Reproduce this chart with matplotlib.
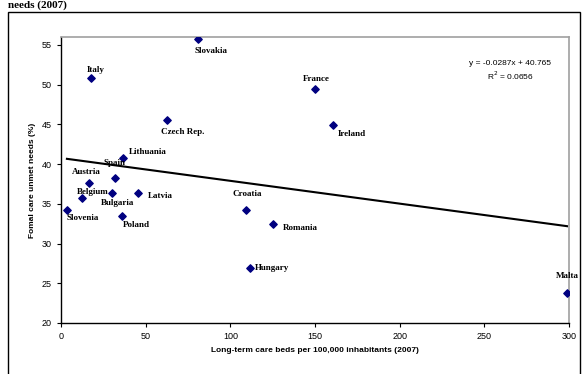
import numpy as np
import matplotlib.pyplot as plt
from matplotlib.patches import Rectangle

# data
countries = ['Slovenia', 'Belgium', 'Austria', 'Italy', 'Bulgaria', 'Spain',
             'Lithuania', 'Poland', 'Latvia', 'Czech Rep.', 'Slovakia',
             'Croatia', 'Hungary', 'Romania', 'France', 'Ireland', 'Malta']
beds = [3.5, 12.4, 16.5, 17.7, 30.1, 31.9, 36.6, 36.0, 45.5, 62.6, 80.9,
        109.3, 111.6, 125.2, 150.0, 160.7, 298.9]
unmet = [34.2, 35.7, 37.6, 50.9, 36.4, 38.3, 40.8, 33.5, 36.4, 45.5, 55.8,
         34.2, 26.9, 32.5, 49.5, 44.9, 23.8]

# label offsets in pixels (dx, dy)
offsets = [(16, -8), (11, 6), (-3, 11), (5, 8), (6, -10), (0, 15),
           (25, 6), (14, -9), (22, -3), (16, -12), (13, -12),
           (1, 16), (22, 0), (27, -4), (1, 10), (19, -9), (0, 17)]

slope = -0.0287
intercept = 40.765
r2 = 0.0656

fig = plt.figure(figsize=(5.87, 3.74), dpi=100)
ax = fig.add_axes([61/587, 1-323/374, (569-61)/587, (323-37)/374])

# outer chart box
fig.patches.append(Rectangle((8/587, -0.1), (580-8)/587, 1.1 - 12/374,
                             transform=fig.transFigure, fill=False,
                             edgecolor='black', lw=1.0, clip_on=False))
fig.text(8/587, 1-5/374, 'needs (2007)', family='Liberation Serif',
         weight='bold', fontsize=8, va='center', ha='left')

ax.scatter(beds, unmet, marker='D', s=14, color='#000080', zorder=3)

xl = np.array([min(beds), max(beds)])
ax.plot(xl, slope*xl + intercept, color='black', lw=1.5, zorder=2)

for name, x, y, (dx, dy) in zip(countries, beds, unmet, offsets):
    ax.annotate(name, (x, y), xytext=(dx, dy), textcoords='offset pixels',
                ha='center', va='center', family='Liberation Serif',
                weight='bold', fontsize=6.5)

ax.text(0.884, 0.906, 'y = %.4fx + %.3f' % (slope, intercept),
        transform=ax.transAxes, fontsize=6, family='Liberation Sans',
        ha='center', va='center')
ax.text(0.884, 0.865, 'R$^2$ = %.4f' % r2, transform=ax.transAxes,
        fontsize=6, family='Liberation Sans', ha='center', va='center')

ax.set_xlim(0, 300)
ax.set_ylim(20, 56)
ax.set_xticks(range(0, 301, 50))
ax.set_yticks(range(20, 56, 5))
ax.tick_params(labelsize=6.5, length=3, width=0.8)
for lab in ax.get_xticklabels() + ax.get_yticklabels():
    lab.set_family('Liberation Sans')

for s in ['top', 'right']:
    ax.spines[s].set_color('#a0a0a0')
    ax.spines[s].set_linewidth(1.2)
for s in ['left', 'bottom']:
    ax.spines[s].set_linewidth(1.0)

ax.set_xlabel('Long-term care beds per 100,000 inhabitants (2007)',
              family='Liberation Sans', weight='bold', fontsize=6)
ax.set_ylabel('Fomal care unmet needs (%)', family='Liberation Sans',
              weight='bold', fontsize=6)

fig.savefig('out.png', dpi=100)
